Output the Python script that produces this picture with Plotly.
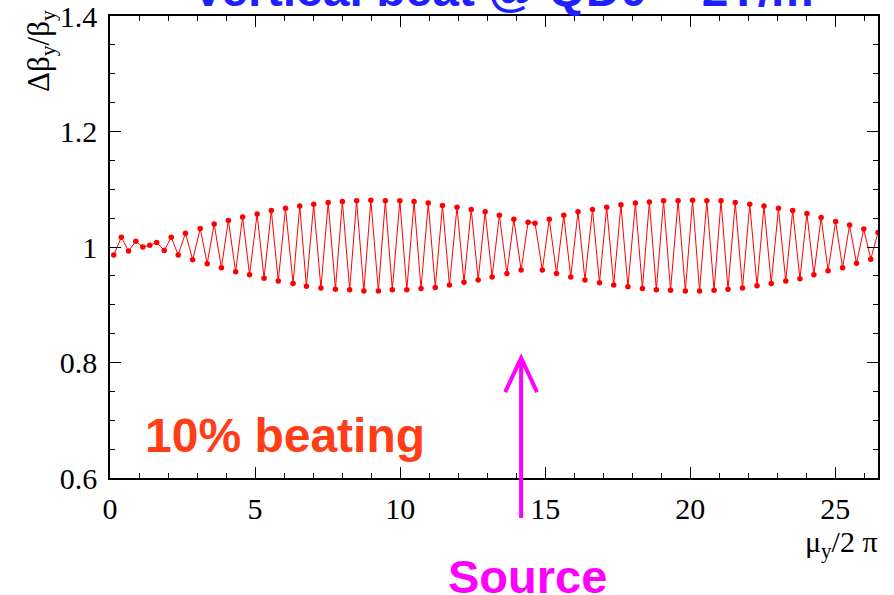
import plotly.graph_objects as go

# Vertical betatron phase advance (mu_y / 2pi) at each monitor
mu_y = [
    0.13, 0.39, 0.64, 0.89, 1.13, 1.37, 1.61, 1.87, 2.11, 2.35,
    2.60, 2.85, 3.11, 3.35, 3.59, 3.84, 4.08, 4.33, 4.57, 4.81,
    5.07, 5.31, 5.56, 5.80, 6.05, 6.31, 6.54, 6.77, 7.02, 7.27,
    7.52, 7.77, 8.01, 8.26, 8.50, 8.75, 8.99, 9.25, 9.49, 9.73,
    9.99, 10.23, 10.48, 10.72, 10.97, 11.21, 11.46, 11.70, 11.96, 12.20,
    12.45, 12.69, 12.93, 13.17, 13.42, 13.68, 13.92, 14.17, 14.41, 14.65,
    14.90, 15.14, 15.39, 15.64, 15.88, 16.13, 16.37, 16.63, 16.87, 17.12,
    17.36, 17.61, 17.85, 18.11, 18.35, 18.59, 18.83, 19.08, 19.32, 19.58,
    19.83, 20.08, 20.32, 20.57, 20.82, 21.06, 21.30, 21.55, 21.80, 22.05,
    22.30, 22.54, 22.79, 23.04, 23.29, 23.53, 23.78, 24.02, 24.26, 24.51,
    24.75, 25.01, 25.25, 25.49, 25.73, 25.98, 26.22, 26.47,
]

# Relative vertical beta beat at each monitor
beta_ratio = [
    0.986, 1.017, 0.993, 1.010, 1.000, 1.003, 1.008, 0.994, 1.017, 0.986,
    1.024, 0.978, 1.032, 0.971, 1.040, 0.964, 1.046, 0.957, 1.052, 0.952,
    1.057, 0.946, 1.063, 0.941, 1.067, 0.937, 1.071, 0.932, 1.074, 0.929,
    1.077, 0.927, 1.079, 0.926, 1.080, 0.924, 1.081, 0.924, 1.080, 0.926,
    1.080, 0.926, 1.079, 0.928, 1.076, 0.930, 1.072, 0.934, 1.069, 0.939,
    1.065, 0.943, 1.061, 0.948, 1.055, 0.954, 1.048, 0.960, 1.043, 1.041,
    0.960, 1.048, 0.954, 1.055, 0.948, 1.061, 0.943, 1.065, 0.938, 1.069,
    0.934, 1.073, 0.931, 1.076, 0.928, 1.078, 0.926, 1.080, 0.925, 1.080,
    0.924, 1.081, 0.924, 1.080, 0.925, 1.080, 0.927, 1.077, 0.929, 1.074,
    0.933, 1.071, 0.937, 1.067, 0.941, 1.063, 0.945, 1.058, 0.952, 1.051,
    0.959, 1.044, 0.964, 1.038, 0.972, 1.031, 0.979, 1.025,
]

X_RANGE = [0, 26.47]
Y_RANGE = [0.6, 1.4]

SERIF = "Liberation Serif, Times New Roman, serif"
SANS = "Liberation Sans, Arial, sans-serif"

fig = go.Figure()
fig.add_trace(go.Scatter(
    x=mu_y, y=beta_ratio,
    mode="lines+markers",
    line=dict(color="#ff0000", width=1),
    marker=dict(color="#ff0000", size=5.5, symbol="circle"),
))

axis_common = dict(
    showline=True, linecolor="black", linewidth=1.5,
    mirror="allticks", ticks="inside", tickcolor="black",
    ticklen=11, tickwidth=1.2,
    showgrid=False, zeroline=False, automargin=False,
    ticklabeloverflow="allow",
    tickfont=dict(family=SERIF, size=30, color="black"),
)

fig.update_xaxes(
    range=X_RANGE, tick0=0, dtick=5,
    minor=dict(dtick=1, ticks="inside", ticklen=5.5, tickwidth=1.2, tickcolor="black"),
    ticklabelstandoff=3,
    **axis_common,
)
fig.update_yaxes(
    range=Y_RANGE, tick0=0.6, dtick=0.2,
    minor=dict(dtick=0.05, ticks="inside", ticklen=5.5, tickwidth=1.2, tickcolor="black"),
    ticklabelstandoff=5,
    **axis_common,
)

# Marker arrow pointing at the error source location
fig.add_shape(
    type="path", xref="paper", yref="paper",
    path="M 0.5353 -0.0866 L 0.5353 0.2597 M 0.5146 0.186 L 0.5353 0.2597 L 0.556 0.186",
    line=dict(color="#ff00ff", width=4),
)

annotations = [
    dict(text="Vertical beat @ QD0 ~ 2T/m", x=0.1047, y=0.996, xanchor="left", yanchor="bottom",
         font=dict(family=SANS, size=48, color="#1f1fff", weight="bold")),
    dict(text="Δβ<sub>y</sub>/β<sub>y</sub>", textangle=-90, x=-0.09, y=1.017,
         xanchor="center", yanchor="top",
         font=dict(family=SERIF, size=31, color="black")),
    dict(text="μ<sub>y</sub>/2 π", x=1.003, y=-0.097, xanchor="right", yanchor="top",
         font=dict(family=SERIF, size=30, color="black")),
    dict(text="10% beating", x=0.0435, y=0.093, xanchor="left", yanchor="middle",
         font=dict(family=SANS, size=48, color="#ff3d17", weight="bold")),
    dict(text="Source", x=0.543, y=-0.213, xanchor="center", yanchor="middle",
         font=dict(family=SANS, size=47, color="#ff00ff", weight="bold")),
]
for a in annotations:
    a.update(xref="paper", yref="paper", showarrow=False)
    fig.add_annotation(**a)

fig.update_layout(
    width=894, height=595,
    margin=dict(l=110, r=16, t=16, b=117),
    plot_bgcolor="white", paper_bgcolor="white",
    showlegend=False,
)

fig.write_html("out.html")
